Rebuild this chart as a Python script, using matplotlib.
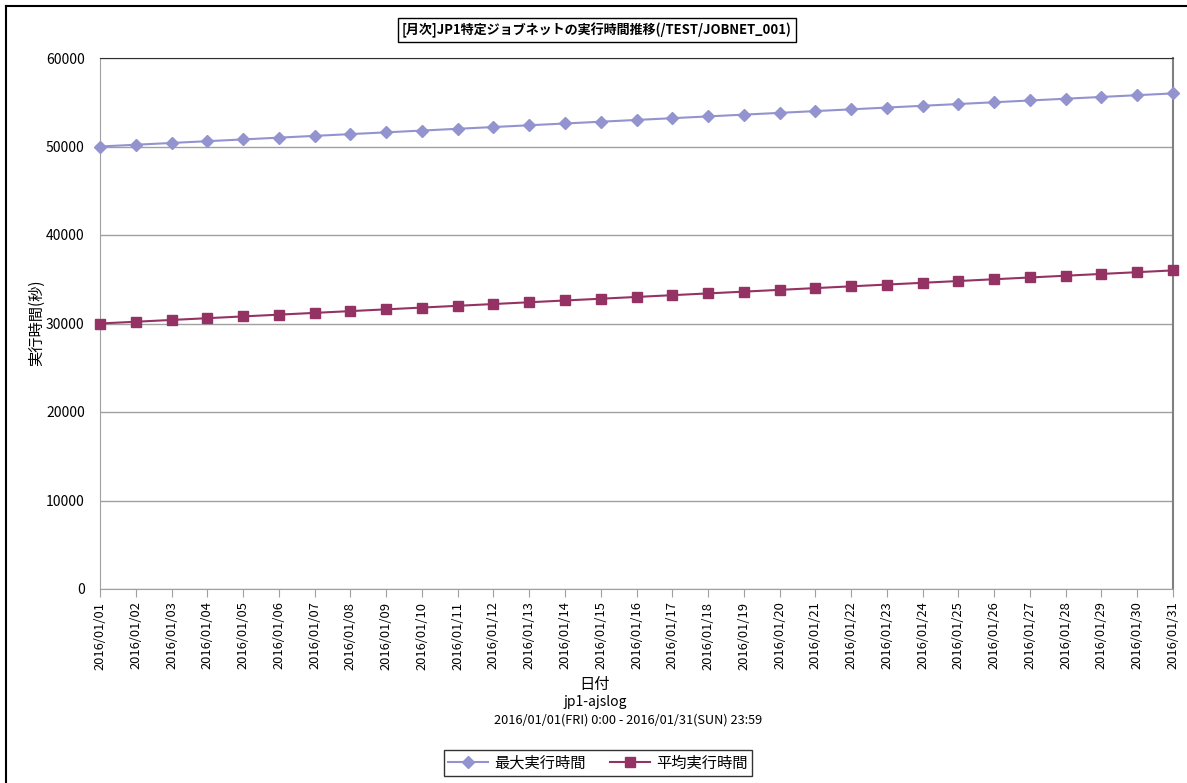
import matplotlib
matplotlib.use('Agg')
import matplotlib.pyplot as plt
from matplotlib.lines import Line2D

plt.rcParams['font.family'] = ['Noto Sans CJK JP', 'DejaVu Sans']

# 日付と実行時間(秒)
dates = ['2016/01/%02d' % d for d in range(1, 32)]
max_time = [50000, 50200, 50400, 50600, 50800, 51000, 51200, 51400, 51600, 51800,
            52000, 52200, 52400, 52600, 52800, 53000, 53200, 53400, 53600, 53800,
            54000, 54200, 54400, 54600, 54800, 55000, 55200, 55400, 55600, 55800,
            56000]
avg_time = [30000, 30200, 30400, 30600, 30800, 31000, 31200, 31400, 31600, 31800,
            32000, 32200, 32400, 32600, 32800, 33000, 33200, 33400, 33600, 33800,
            34000, 34200, 34400, 34600, 34800, 35000, 35200, 35400, 35600, 35800,
            36000]
y_ticks = [0, 10000, 20000, 30000, 40000, 50000, 60000]

W, H = 1187, 783
fig = plt.figure(figsize=(W / 100, H / 100), dpi=100)
ax = fig.add_axes([100 / W, 1 - 589 / H, (1173 - 100) / W, (589 - 58) / H])

x = list(range(len(dates)))
ax.plot(x, max_time, color='#9393CF', marker='D', markersize=6, linewidth=1.5,
        label='最大実行時間', clip_on=False, zorder=3)
ax.plot(x, avg_time, color='#953264', marker='s', markersize=7, linewidth=1.5,
        label='平均実行時間', clip_on=False, zorder=3)

ax.set_xlim(0, len(dates) - 1)
ax.set_ylim(0, 60000)
ax.set_yticks(y_ticks)
ax.set_yticklabels([str(v) for v in y_ticks], fontsize=10)
ax.set_xticks(x)
ax.set_xticklabels(dates, rotation=90, fontsize=9.3)
ax.tick_params(axis='y', length=0, pad=11)
ax.tick_params(axis='x', length=6, color='#A0A0A0', pad=3, direction='out')
ax.yaxis.grid(True, color='#A0A0A0', linewidth=1)
ax.set_axisbelow(True)
for s in ['left', 'bottom']:
    ax.spines[s].set_color('#A0A0A0')
ax.spines['top'].set_color('#303030')
ax.spines['right'].set_color('#808080')
ax.spines['right'].set_linewidth(1.5)

fig.text(37 / W, 1 - 323 / H, '実行時間(秒)', ha='center', va='center',
         rotation=90, fontsize=11)

fig.text(595 / W, 1 - 684 / H, '日付', ha='center', va='center', fontsize=11)
fig.text(595 / W, 1 - 702 / H, 'jp1-ajslog', ha='center', va='center', fontsize=10)
fig.text(628 / W, 1 - 720 / H, '2016/01/01(FRI) 0:00 - 2016/01/31(SUN) 23:59',
         ha='center', va='center', fontsize=9.2)

fig.text(597 / W, 1 - 30 / H, '[月次]JP1特定ジョブネットの実行時間推移(/TEST/JOBNET_001)',
         ha='center', va='center', fontsize=9.4, fontweight='bold',
         bbox=dict(boxstyle='square,pad=0.3', facecolor='white', edgecolor='black', linewidth=1))

leg = fig.legend(loc='center', bbox_to_anchor=(598 / W, 1 - 763 / H), ncol=2,
                 fontsize=11, frameon=True, fancybox=False, edgecolor='black',
                 handlelength=2.6, handletextpad=0.4, columnspacing=1.6, borderpad=0.3)
leg.get_frame().set_linewidth(1)

# 外枠 (左と上)
fig.add_artist(Line2D([6 / W, 6 / W], [0, 1 - 6 / H], color='black', linewidth=1.5))
fig.add_artist(Line2D([6 / W, 1], [1 - 6 / H, 1 - 6 / H], color='black', linewidth=1.5))

fig.savefig('out.png', dpi=100)
